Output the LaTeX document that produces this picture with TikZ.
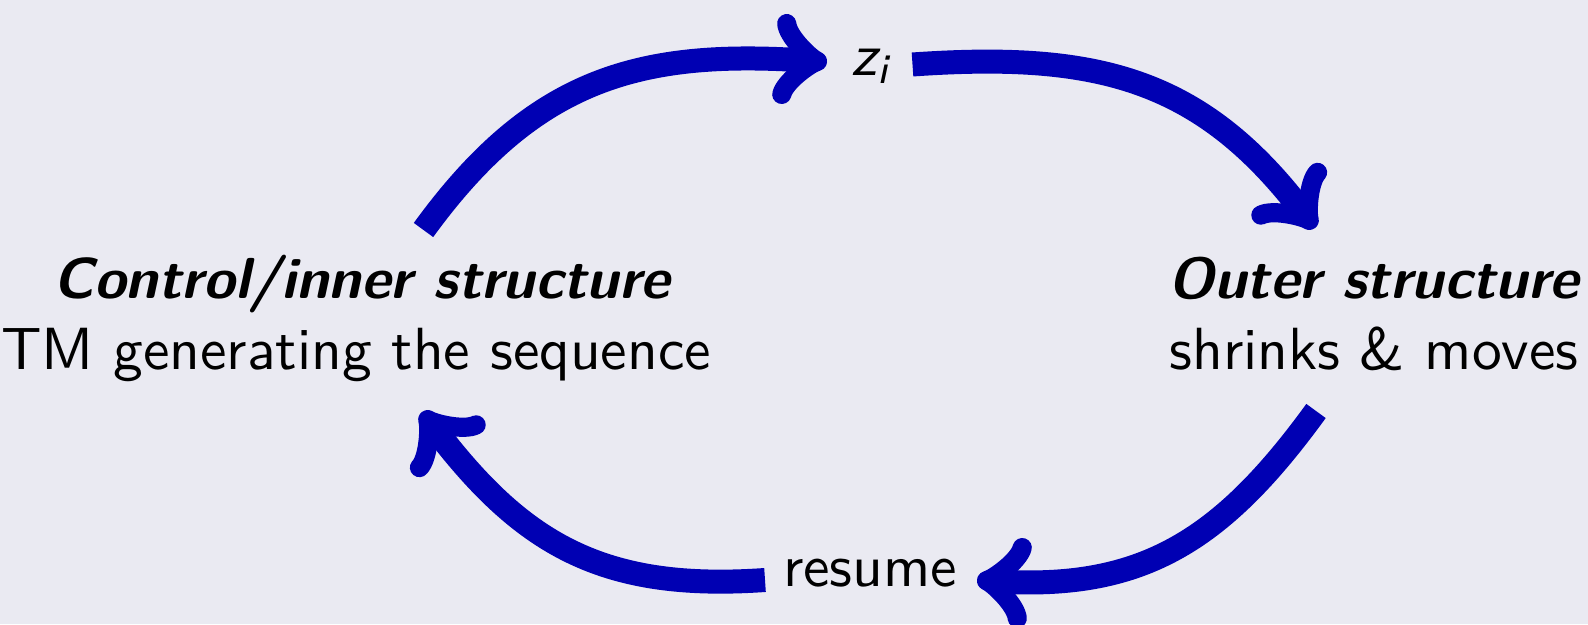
\documentclass[tikz,border=0pt]{standalone}
\usepackage{graphicx}
\definecolor{bgc}{RGB}{234,234,242}
\definecolor{arrblue}{RGB}{0,0,179}
\newcommand\sclbl[1]{\scalebox{5.95}{#1}}
\newcommand\hdline[1]{\scalebox{0.972}{\bfseries\itshape #1}}
\makeatletter
\pgfarrowsdeclare{oldto}{oldto}
{
  \pgfutil@tempdima=-5pt%
  \advance\pgfutil@tempdima by-1.3\pgflinewidth%
  \pgfutil@tempdimb=1.25pt%
  \advance\pgfutil@tempdimb by.625\pgflinewidth%
  \pgfarrowsleftextend{+\pgfutil@tempdima}
  \pgfarrowsrightextend{+\pgfutil@tempdimb}
}
{
  \pgfutil@tempdima=1.67pt%
  \advance\pgfutil@tempdima by.3\pgflinewidth%
  \pgfsetlinewidth{0.8\pgflinewidth}
  \pgfsetdash{}{+0pt}
  \pgfsetroundcap
  \pgfsetroundjoin
  \pgfpathmoveto{\pgfqpoint{-3\pgfutil@tempdima}{4\pgfutil@tempdima}}
  \pgfpathcurveto
  {\pgfqpoint{-2.75\pgfutil@tempdima}{2.5\pgfutil@tempdima}}
  {\pgfqpoint{0pt}{0.25\pgfutil@tempdima}}
  {\pgfqpoint{0.75\pgfutil@tempdima}{0pt}}
  \pgfpathcurveto
  {\pgfqpoint{0pt}{-0.25\pgfutil@tempdima}}
  {\pgfqpoint{-2.75\pgfutil@tempdima}{-2.5\pgfutil@tempdima}}
  {\pgfqpoint{-3\pgfutil@tempdima}{-4\pgfutil@tempdima}}
  \pgfusepathqstroke
}
\makeatother
\begin{document}
\begin{tikzpicture}[x=1pt,y=1pt,
  lbl/.style={inner sep=0pt, outer sep=0pt, font=\sffamily},
  flow/.style={draw=arrblue, line width=24pt, -oldto, looseness=1.1}]
\useasboundingbox (0,0) rectangle (1588,624);
\fill[bgc] (0,0) rectangle (1588,624);
\node[lbl, anchor=base] (ctrl) at (356,325.5)
  {\sclbl{\begin{tabular}[t]{@{}c@{}}\hspace*{2pt}\hdline{Control/inner structure}\\TM generating the sequence\end{tabular}}};
\node[lbl, anchor=base] (outer) at (1374,325.5)
  {\sclbl{\begin{tabular}[t]{@{}c@{}}\hdline{Outer structure}\\shrinks \& moves\end{tabular}}};
\node[lbl, anchor=base] (zi) at (870,548)
  {\sclbl{\slshape z\raisebox{-1.2pt}{\fontsize{7}{8}\selectfont i}}};
\node[lbl, anchor=base] (resume) at (870,37.3) {\sclbl{resume}};
\draw[flow] ([shift={(67.5,68.5)}]ctrl.base) to[out=54,in=176] ([shift={(-43,14)}]zi.base);
\draw[flow] ([shift={(42.5,11.5)}]zi.base) to[out=4,in=127] ([shift={(-59,70.5)}]outer.base);
\draw[flow] ([shift={(-58,-112.5)}]outer.base) to[out=234,in=356] ([shift={(107,6.7)}]resume.base);
\draw[flow] ([shift={(-105,6.7)}]resume.base) to[out=184,in=307] ([shift={(66,-113.5)}]ctrl.base);
\end{tikzpicture}
\end{document}
